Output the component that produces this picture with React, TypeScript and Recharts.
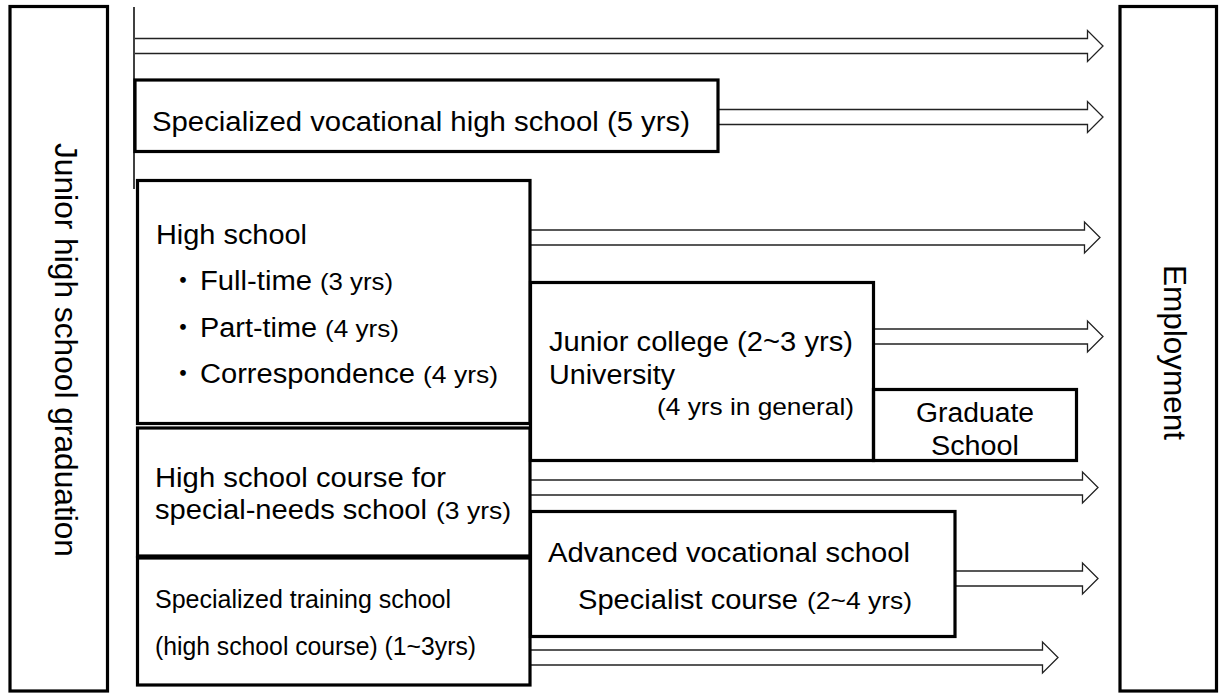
import React from 'react';
import { ComposedChart, XAxis, YAxis, ReferenceArea, ReferenceDot, ReferenceLine } from 'recharts';

const CHART_W = 1219;
const CHART_H = 695;

// Diagram coordinate space (x: left→right, y: top→bottom)
const xDomain = [0, 1219];
const yDomain = [0, 695];

// Boxes: extents in diagram units
const boxes = [
  { id: 'jhs', x1: 10, x2: 107.5, y1: 6.5, y2: 691 },
  { id: 'emp', x1: 1120, x2: 1216.5, y1: 6.5, y2: 691 },
  { id: 'svh', x1: 135, x2: 718, y1: 80, y2: 151.5 },
  { id: 'hs', x1: 137.5, x2: 530, y1: 180.5, y2: 423.5 },
  { id: 'sn', x1: 137.5, x2: 530, y1: 428, y2: 556 },
  { id: 'st', x1: 137.5, x2: 530, y1: 558, y2: 685 },
  { id: 'jc', x1: 530.5, x2: 873.5, y1: 282.5, y2: 460.5 },
  { id: 'gs', x1: 873.5, x2: 1076.5, y1: 389.5, y2: 460.5 },
  { id: 'av', x1: 530.5, x2: 955, y1: 511.5, y2: 636.5 },
];

// Arrows: start, tip and centre line
const arrows = [
  { id: 'a1', from: 135, to: 1103, y: 46 },
  { id: 'a2', from: 718, to: 1103, y: 117 },
  { id: 'a3', from: 530, to: 1100, y: 237.5 },
  { id: 'a4', from: 873.5, to: 1103, y: 336.5 },
  { id: 'a5', from: 530, to: 1098, y: 487.5 },
  { id: 'a6', from: 955, to: 1098, y: 578.5 },
  { id: 'a7', from: 530, to: 1058, y: 657.5 },
];

// Thin vertical starting line
const startLine = [
  { x: 134, y: 7 },
  { x: 134, y: 189 },
];

// Text labels
const labels = [
  { id: 't1', text: 'Specialized vocational high school (5 yrs)', x: 152, y: 131 },
  { id: 't2', text: 'High school', x: 156, y: 244 },
  { id: 'b1', text: '・', x: 183, y: 290 },
  { id: 't3', text: 'Full-time', x: 200, y: 290 },
  { id: 't4', text: '(3 yrs)', x: 320, y: 290 },
  { id: 'b2', text: '・', x: 183, y: 337 },
  { id: 't5', text: 'Part-time', x: 200, y: 337 },
  { id: 't6', text: '(4 yrs)', x: 325, y: 337 },
  { id: 'b3', text: '・', x: 183, y: 383 },
  { id: 't7', text: 'Correspondence', x: 200, y: 383 },
  { id: 't8', text: '(4 yrs)', x: 423, y: 383 },
  { id: 't9', text: 'Junior college (2~3 yrs)', x: 549, y: 350.5 },
  { id: 't10', text: 'University', x: 549, y: 384 },
  { id: 't11', text: '(4 yrs in general)', x: 854, y: 415 },
  { id: 't12', text: 'Graduate', x: 975, y: 422 },
  { id: 't13', text: 'School', x: 975, y: 455 },
  { id: 't14', text: 'High school course for', x: 155, y: 487 },
  { id: 't15', text: 'special-needs school', x: 155, y: 519 },
  { id: 't16', text: '(3 yrs)', x: 436, y: 519 },
  { id: 't17', text: 'Specialized training school', x: 155, y: 608 },
  { id: 't18', text: '(high school course) (1~3yrs)', x: 155, y: 655 },
  { id: 't19', text: 'Advanced vocational school', x: 548, y: 562 },
  { id: 't20', text: 'Specialist course', x: 578, y: 609 },
  { id: 't21', text: '(2~4 yrs)', x: 807, y: 609 },
  { id: 'v1', text: 'Junior high school graduation', x: 55, y: 350 },
  { id: 'v2', text: 'Employment', x: 1164, y: 352.5 },
];

// ---- styles (kept separate from data) ----
const FONT = "'Liberation Sans', Arial, 'Noto Sans CJK JP', sans-serif";
const SIZE: Record<string, number> = { big: 27, small: 24, train: 26, vert: 31 };
const labelStyle: Record<string, { kind: string; anchor?: 'start' | 'middle' | 'end'; len?: number; rotate?: boolean }> = {
  t1: { kind: 'big', len: 538 },
  t2: { kind: 'big', len: 151 },
  b1: { kind: 'big', anchor: 'middle' },
  t3: { kind: 'big', len: 112 },
  t4: { kind: 'small', len: 73 },
  b2: { kind: 'big', anchor: 'middle' },
  t5: { kind: 'big', len: 117 },
  t6: { kind: 'small', len: 74 },
  b3: { kind: 'big', anchor: 'middle' },
  t7: { kind: 'big', len: 215 },
  t8: { kind: 'small', len: 75 },
  t9: { kind: 'big', len: 304 },
  t10: { kind: 'big', len: 126 },
  t11: { kind: 'small', anchor: 'end', len: 197 },
  t12: { kind: 'big', anchor: 'middle', len: 118 },
  t13: { kind: 'big', anchor: 'middle', len: 88 },
  t14: { kind: 'big', len: 291 },
  t15: { kind: 'big', len: 272 },
  t16: { kind: 'small', len: 75 },
  t17: { kind: 'train', len: 296 },
  t18: { kind: 'train', len: 321 },
  t19: { kind: 'big', len: 362 },
  t20: { kind: 'big', len: 220 },
  t21: { kind: 'small', len: 105 },
  v1: { kind: 'vert', anchor: 'middle', len: 414, rotate: true },
  v2: { kind: 'vert', anchor: 'middle', len: 175, rotate: true },
};

const BOX_STROKE = 3.2;
const ARROW_SHAFT = 7.5;
const ARROW_HEAD_HALF = 15.5;
const ARROW_HEAD_LEN = 15.5;

const renderBox = (p: any) => (
  <rect x={p.x} y={p.y} width={p.width} height={p.height} fill="none" stroke="#000" strokeWidth={BOX_STROKE} />
);

const renderArrow = (p: any) => {
  const sx = p.x;
  const tx = p.x + p.width;
  const top = p.y;
  const bot = p.y + p.height;
  const cy = p.y + p.height / 2;
  const bx = tx - ARROW_HEAD_LEN;
  const d = `M${sx},${top} L${bx},${top} L${bx},${cy - ARROW_HEAD_HALF} L${tx},${cy} L${bx},${cy + ARROW_HEAD_HALF} L${bx},${bot} L${sx},${bot}`;
  return <path d={d} fill="none" stroke="#222" strokeWidth={1.3} strokeLinejoin="miter" />;
};

const makeLabel = (l: { id: string; text: string }) => (p: any) => {
  const st = labelStyle[l.id];
  const fs = SIZE[st.kind];
  const extra: any = {};
  if (st.len) {
    extra.textLength = st.len;
    extra.lengthAdjust = 'spacingAndGlyphs';
  }
  return (
    <text
      x={p.cx}
      y={p.cy}
      fontFamily={FONT}
      fontSize={fs}
      fill="#000"
      textAnchor={st.anchor || 'start'}
      transform={st.rotate ? `rotate(90, ${p.cx}, ${p.cy})` : undefined}
      {...extra}
    >
      {l.text}
    </text>
  );
};

export default function App() {
  return (
    <div style={{ position: 'absolute', left: 0, top: 0, width: CHART_W, height: CHART_H, background: '#fff' }}>
      <ComposedChart width={CHART_W} height={CHART_H} data={[]} margin={{ top: 0, right: 0, bottom: 0, left: 0 }}>
        <XAxis type="number" dataKey="x" domain={xDomain} allowDataOverflow hide />
        <YAxis type="number" dataKey="y" domain={yDomain} allowDataOverflow reversed hide />
        {arrows.map((a) => (
          <ReferenceArea
            key={a.id}
            x1={a.from}
            x2={a.to}
            y1={a.y - ARROW_SHAFT}
            y2={a.y + ARROW_SHAFT}
            ifOverflow="visible"
            shape={renderArrow}
          />
        ))}
        {boxes.map((b) => (
          <ReferenceArea key={b.id} x1={b.x1} x2={b.x2} y1={b.y1} y2={b.y2} ifOverflow="visible" shape={renderBox} />
        ))}
        <ReferenceLine segment={startLine} stroke="#000" strokeWidth={1.5} ifOverflow="visible" />
        {labels.map((l) => (
          <ReferenceDot key={l.id} x={l.x} y={l.y} r={0} ifOverflow="visible" shape={makeLabel(l)} />
        ))}
      </ComposedChart>
    </div>
  );
}
